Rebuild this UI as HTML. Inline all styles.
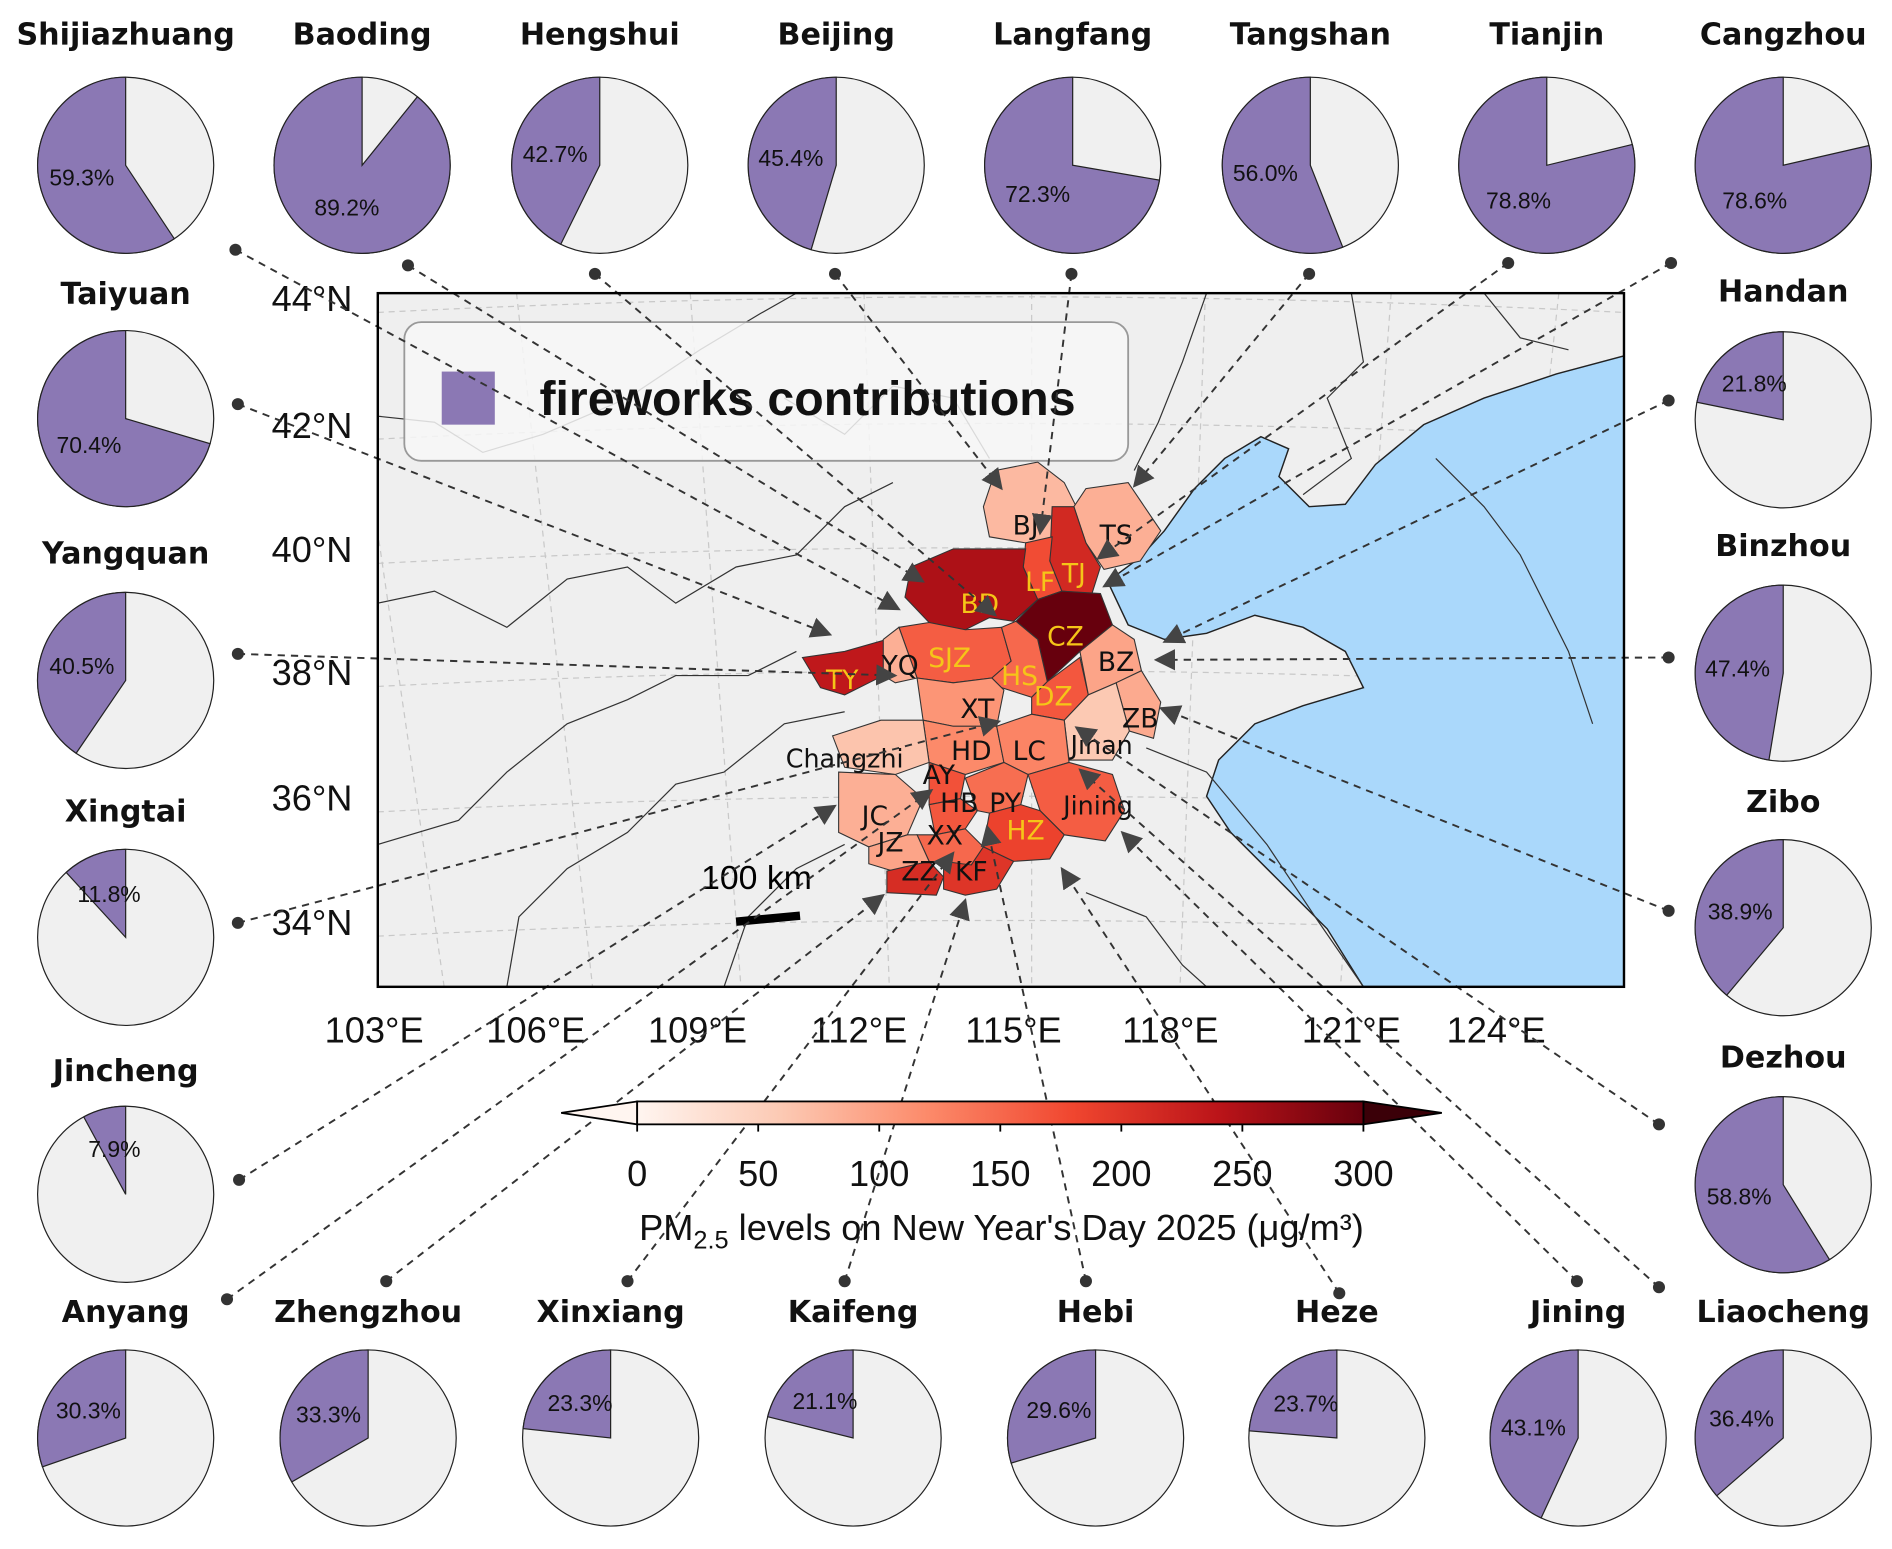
<!DOCTYPE html>
<html><head><meta charset="utf-8">
<style>
html,body{margin:0;padding:0;background:#fff;}
svg{display:block;font-family:"Liberation Sans",sans-serif;}
</style></head>
<body>
<svg id="fig" width="1892" height="1549" viewBox="0 0 1568 1284" xmlns="http://www.w3.org/2000/svg">
<defs>
<linearGradient id="reds" x1="0" x2="1" y1="0" y2="0">
<stop offset="0" stop-color="#fff5f0"/><stop offset="0.2" stop-color="#fcc9b3"/><stop offset="0.4" stop-color="#fc8a6a"/><stop offset="0.6" stop-color="#f0462f"/><stop offset="0.8" stop-color="#bb1419"/><stop offset="1" stop-color="#67000d"/>
</linearGradient>
<marker id="arr" viewBox="0 0 10 10" refX="9" refY="5" markerWidth="11" markerHeight="11" orient="auto"><path d="M0,0 L10,5 L0,10 z" fill="#444"/></marker>
<clipPath id="mapclip"><rect x="313" y="243" width="1033" height="575"/></clipPath>
</defs>
<g id="map">
<rect x="313" y="243" width="1033" height="575" fill="#efefef"/>
<g id="grid" clip-path="url(#mapclip)"></g>
<path clip-path="url(#mapclip)" fill="#aad8fb" stroke="#222" stroke-width="1.2" d="M918,482 L945,462 L965,440 L990,405 L1015,380 L1045,362 L1068,372 L1060,395 L1085,420 L1115,418 L1140,385 L1180,352 L1230,330 L1290,310 L1346,295 L1346,818 L1130,818 L1100,770 L1060,730 L1020,690 L1000,660 L1010,630 L1040,600 L1080,585 L1130,570 L1115,540 L1080,520 L1040,510 L1000,525 L965,530 L935,518 Z"/>
<g clip-path="url(#mapclip)" fill="none" stroke="#333" stroke-width="1">
<path d="M313,345 L360,350 L400,375 L450,360 L520,330 L580,290 L630,260 L660,243"/>
<path d="M650,330 L700,360 L740,320 L790,330 L820,380"/>
<path d="M313,500 L360,490 L420,520 L470,480 L520,470 L560,500 L610,470 L660,460 L700,420 L740,400"/>
<path d="M420,818 L430,760 L470,720 L520,690 L560,650 L600,640 L650,600 L700,590"/>
<path d="M600,818 L620,760 L660,720 L700,700"/>
<path d="M313,700 L380,680 L420,640 L470,600 L520,580 L560,560 L620,560 L660,540"/>
<path d="M950,620 L1000,640 L1050,700 L1090,760 L1130,818"/>
<path d="M900,740 L950,760 L980,800 L1000,818"/>
<path d="M1120,243 L1130,300 L1100,330 L1120,380 L1080,410"/>
<path d="M1000,243 L980,300 L960,350 L940,390"/>
<path d="M1230,243 L1260,280 L1300,290"/>
<path d="M1190,380 L1230,420 L1260,460 L1280,500 L1300,540 L1320,600"/>
</g>
<g id="regions"></g>
<g id="cityLabels"></g>
</g>
<g id="legend">
<rect x="335" y="267" width="600" height="115" rx="14" fill="#f7f7f7" fill-opacity="0.85" stroke="#999" stroke-width="1.5"/>
<rect x="366" y="308" width="44" height="44" fill="#8b78b4"/>
<text x="447" y="344" font-size="40" font-weight="bold" fill="#111">fireworks contributions</text>
</g>
<g id="scale">
<text x="581" y="737" font-size="28" fill="#000">100 km</text>
<line x1="610" y1="764" x2="663" y2="759" stroke="#000" stroke-width="7"/>
</g>
<g id="axes"></g>
<g id="lines"></g>
<rect x="313" y="243" width="1033" height="575" fill="none" stroke="#000" stroke-width="2"/>
<g id="colorbar"></g>
<g id="pies"></g>
</svg>
<script>
const NS="http://www.w3.org/2000/svg";
function mk(tag,attrs,parent){const e=document.createElementNS(NS,tag);for(const k in attrs)e.setAttribute(k,attrs[k]);if(parent)parent.appendChild(e);return e;}

// ---------- data ----------
const cityNames=["Shijiazhuang","Baoding","Hengshui","Beijing","Langfang","Tangshan","Tianjin","Cangzhou","Taiyuan","Yangquan","Xingtai","Jincheng","Handan","Binzhou","Zibo","Dezhou","Anyang","Zhengzhou","Xinxiang","Kaifeng","Hebi","Heze","Jining","Liaocheng"];
const fireworksPct=[59.3,89.2,42.7,45.4,72.3,56.0,78.8,78.6,70.4,40.5,11.8,7.9,21.8,47.4,38.9,58.8,30.3,33.3,23.3,21.1,29.6,23.7,43.1,36.4];
const regionCodes=["BJ","TS","TJ","LF","BD","CZ","SJZ","HS","DZ","BZ","ZB","Jinan","TY","YQ","XT","HD","LC","Changzhi","AY","JC","HB","PY","Jining","HZ","XX","JZ","ZZ","KF"];
const regionPM=[75,85,215,175,250,300,160,150,165,95,90,60,235,85,110,120,125,65,170,85,165,145,160,185,150,95,210,200];
const cbarTicks=[0,50,100,150,200,250,300];
const latTicks=["44°N","42°N","40°N","38°N","36°N","34°N"];
const lonTicks=["103°E","106°E","109°E","112°E","115°E","118°E","121°E","124°E"];

// ---------- layout (geometry, not data) ----------
const pieLayout=[[104,137,28],[300,137,28],[497,137,28],[693,137,28],[889,137,28],[1086,137,28],[1282,137,28],[1478,137,28],
[104,347,243],[104,564,458],[104,777,672],[104,990,887],[1478,348,241],[1478,558,452],[1478,769,664],[1478,982,876],
[104,1192,1087],[305,1192,1087],[506,1192,1087],[707,1192,1087],[908,1192,1087],[1108,1192,1087],[1308,1192,1087],[1478,1192,1087]];
const links=[[195,207,745,505],[338,220,765,482],[493,227,825,510],[692,227,830,405],[888,227,862,442],[1085,227,940,403],[1250,218,910,463],[1385,218,915,486],
[197,335,688,526],[197,542,742,560],[197,765,828,598],[198,978,692,668],[1383,332,965,532],[1383,545,958,547],[1383,755,962,587],[1375,932,892,603],
[188,1077,772,655],[320,1062,732,742],[520,1062,790,707],[700,1062,800,746],[900,1062,818,685],[1110,1072,880,720],[1307,1062,930,690],[1375,1067,895,638]];
const regionShapes={
BJ:"815,420 825,390 860,383 882,400 892,420 875,445 850,450 820,445",
TS:"890,420 900,405 935,400 962,440 945,465 915,472 900,450",
TJ:"872,420 890,420 900,450 912,470 905,492 880,490 870,465",
LF:"850,450 872,445 870,465 880,490 860,497 848,470",
BD:"755,470 790,455 850,455 848,470 860,497 840,515 820,512 800,522 770,516 750,495",
CZ:"860,497 880,490 912,492 922,518 895,540 868,565 860,530 842,515",
SJZ:"745,520 770,516 800,522 830,520 838,548 822,562 790,566 760,562",
HS:"830,520 842,515 860,530 868,565 855,578 830,570 822,562 838,548",
DZ:"855,578 868,565 895,545 902,576 882,597 855,592",
BZ:"895,540 922,518 940,530 946,556 925,566 902,576",
ZB:"925,566 946,556 962,582 956,612 936,606",
Jinan:"882,597 902,576 925,566 936,606 922,630 886,630",
TY:"665,545 700,540 735,530 732,560 700,576 680,570",
YQ:"732,530 745,520 760,562 742,566 732,560",
XT:"760,562 790,566 822,562 832,572 826,602 790,602 765,597",
HD:"765,597 790,602 826,602 832,632 800,642 770,632",
LC:"826,602 855,592 882,597 886,632 852,642 832,632",
Changzhi:"690,610 730,597 765,597 770,632 742,642 700,636",
AY:"770,632 800,642 796,662 770,667",
JC:"695,640 742,642 765,662 752,692 720,702 695,690",
HB:"770,667 796,662 810,672 800,687 775,692",
PY:"800,645 832,632 852,642 846,667 820,674 810,672",
Jining:"852,642 886,632 922,642 932,672 916,697 882,692 862,672",
HZ:"820,674 846,667 862,672 882,692 870,712 840,714 815,702",
XX:"760,692 775,692 800,687 815,702 805,717 770,714",
JZ:"720,702 752,692 760,692 770,714 740,722 720,716",
ZZ:"735,722 770,714 782,727 776,742 735,740",
KF:"782,714 805,717 815,702 840,714 826,737 800,742 782,737"};
const labelPos={BJ:[850,435],TS:[925,443],TJ:[890,475],LF:[862,482],BD:[812,500],CZ:[883,527],SJZ:[787,545],HS:[845,560],DZ:[873,577],BZ:[925,548],ZB:[945,595],Jinan:[913,617],TY:[698,563],YQ:[746,551],XT:[810,587],HD:[805,622],LC:[853,622],Changzhi:[700,628],AY:[778,642],JC:[725,676],HB:[795,665],PY:[833,665],Jining:[910,667],HZ:[850,688],XX:[783,692],JZ:[738,698],ZZ:[762,722],KF:[805,722]};
const yellowSet=["BD","LF","TJ","CZ","SJZ","HS","DZ","TY","HZ"];

// ---------- color scale ----------
const stops=[[0,[255,245,240]],[0.2,[252,201,179]],[0.4,[252,138,106]],[0.6,[240,70,47]],[0.8,[187,20,25]],[1,[103,0,13]]];
function pmColor(v){let t=Math.max(0,Math.min(1,v/300));for(let i=1;i<stops.length;i++){if(t<=stops[i][0]){const a=stops[i-1],b=stops[i];const f=(t-a[0])/(b[0]-a[0]);const c=a[1].map((x,j)=>Math.round(x+(b[1][j]-x)*f));return`rgb(${c})`;}}return"rgb(103,0,13)";}

// ---------- grid ----------
const grid=document.getElementById('grid');
const latY=[247,352,455,557,661,764];
latY.forEach(y=>{mk('path',{d:`M313,${y+12} Q830,${y-14} 1346,${y+12}`,fill:'none',stroke:'#c8c8c8','stroke-dasharray':'5,4','stroke-width':1},grid);});
const lonX=[340,470,600,730,855,985,1125,1250,1346];
lonX.forEach((x,i)=>{const tilt=(i-4)*14;mk('path',{d:`M${x+tilt},243 L${x-tilt*0.5},818`,fill:'none',stroke:'#c8c8c8','stroke-dasharray':'5,4','stroke-width':1},grid);});

// ---------- regions ----------
const regG=document.getElementById('regions');
regionCodes.forEach((code,i)=>{
 const p=mk('polygon',{points:regionShapes[code],fill:pmColor(regionPM[i]),stroke:'#333','stroke-width':0.9},regG);
 
 
});
const labG=document.getElementById('cityLabels');
regionCodes.forEach(code=>{
 const [x,y]=labelPos[code];
 const t=mk('text',{x:x,y:y+8,'font-size':code.length>3?21:22,'text-anchor':'middle',fill:yellowSet.includes(code)?'#f5c518':'#111','font-family':'"DejaVu Sans","Liberation Sans",sans-serif'},labG);
 t.textContent=code;
 
 
});

// ---------- axes labels ----------
const ax=document.getElementById('axes');
latTicks.forEach((s,i)=>{const t=mk('text',{x:292,y:latY[i]+11,'font-size':30,'text-anchor':'end',fill:'#111'},ax);t.textContent=s;
 
 });
const lonLabX=[310,444,578,712,840,970,1120,1240];
lonTicks.forEach((s,i)=>{const t=mk('text',{x:lonLabX[i],y:864,'font-size':30,'text-anchor':'middle',fill:'#111'},ax);t.textContent=s;
 
 });

// ---------- colorbar ----------
const cb=document.getElementById('colorbar');
const cbX0=528,cbX1=1130,cbY=913,cbH=19;
function cbx(v){return cbX0+(cbX1-cbX0)*v/300;}
mk('polygon',{points:`${cbX0},${cbY} ${cbX0},${cbY+cbH} 465,${cbY+cbH/2}`,fill:'#fff5f0',stroke:'#000','stroke-width':1.5},cb);
mk('polygon',{points:`${cbX1},${cbY} ${cbX1},${cbY+cbH} 1195,${cbY+cbH/2}`,fill:'#3b0008',stroke:'#000','stroke-width':1.5},cb);
mk('rect',{x:cbX0,y:cbY,width:cbX1-cbX0,height:cbH,fill:'url(#reds)',stroke:'#000','stroke-width':1.5},cb);
cbarTicks.forEach(v=>{
 mk('line',{x1:cbx(v),x2:cbx(v),y1:cbY+cbH,y2:cbY+cbH+6,stroke:'#000','stroke-width':1.5},cb);
 const t=mk('text',{x:cbx(v),y:cbY+cbH+51,'font-size':30,'text-anchor':'middle',fill:'#111'},cb);t.textContent=v;
 
 
});
const cbt=mk('text',{x:830,y:1028,'font-size':30,'text-anchor':'middle',fill:'#111'},cb);
cbt.innerHTML='PM<tspan font-size="21" dy="7">2.5</tspan><tspan dy="-7"> levels on New Year\'s Day 2025 (μg/m³)</tspan>';



// ---------- leader lines ----------
const lg=document.getElementById('lines');
links.forEach((l,i)=>{
 const ln=mk('line',{x1:l[0],y1:l[1],x2:l[2],y2:l[3],stroke:'#333','stroke-width':1.6,'stroke-dasharray':'6,5','marker-end':'url(#arr)'},lg);
 
 
 const d=mk('circle',{cx:l[0],cy:l[1],r:5,fill:'#333'},lg);
 
 
});

// ---------- pies ----------
const pg=document.getElementById('pies');
const R=73;
cityNames.forEach((name,i)=>{
 const [cx,cy,ty]=pieLayout[i];
 const pct=fireworksPct[i];
 const g=mk('g',{},pg);
 
 
 const title=mk('text',{x:cx,y:ty+9,'font-size':25,'font-weight':'bold','text-anchor':'middle',fill:'#111','font-family':'"DejaVu Sans","Liberation Sans",sans-serif'},g);
 title.textContent=name;
 
 
 mk('circle',{cx:cx,cy:cy,r:R,fill:'#f0f0f0',stroke:'#222','stroke-width':1},g);
 const a=pct/100*2*Math.PI; // counter-clockwise from top
 const ex=cx-R*Math.sin(a),ey=cy-R*Math.cos(a);
 const large=pct>50?1:0;
 const w=mk('path',{d:`M${cx},${cy} L${cx},${cy-R} A${R},${R} 0 ${large} 0 ${ex},${ey} Z`,fill:'#8b78b4',stroke:'#222','stroke-width':1},g);
 
 
 const m=a/2,rr=R*0.52;
 const t=mk('text',{x:cx-rr*Math.sin(m),y:cy-rr*Math.cos(m)+6,'font-size':19,'text-anchor':'middle',fill:'#111'},g);
 t.textContent=pct.toFixed(1)+'%';
 
 
});
</script>
</body></html>
